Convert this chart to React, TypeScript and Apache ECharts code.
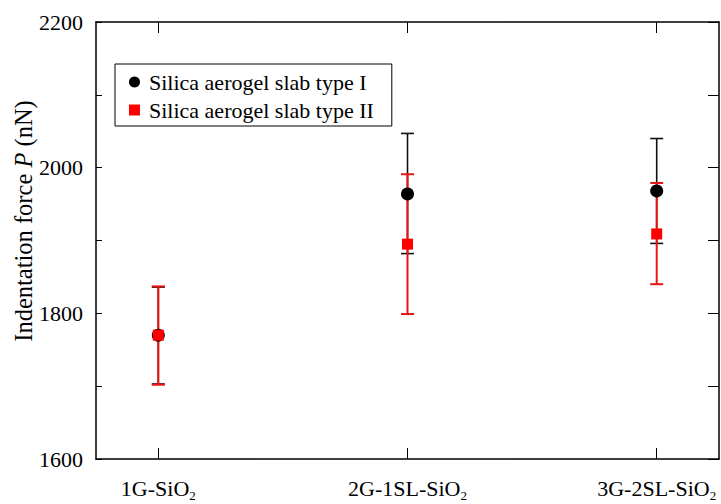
import React, { useEffect, useRef } from "react";
import * as echarts from "echarts";

const categories = ["1G-SiO", "2G-1SL-SiO", "3G-2SL-SiO"];
const subscripts = ["2", "2", "2"];
const positions = [0, 1, 2];
const seriesNames = ["Silica aerogel slab type I", "Silica aerogel slab type II"];
const typeIMean = [1770, 1964, 1968];
const typeILow = [1703, 1882, 1896];
const typeIHigh = [1836, 2047, 2040];
const typeIIMean = [1770, 1895, 1909];
const typeIILow = [1702, 1799, 1840];
const typeIIHigh = [1837, 1991, 1979];
const yLabels = [1600, 1800, 2000, 2200];

const FONT = "'Liberation Serif', 'Times New Roman', serif";

function errorSeries(name: string, low: number[], high: number[], color: string, lw: number) {
  return {
    type: "custom",
    name: name + " err",
    xAxisIndex: 0,
    yAxisIndex: 0,
    silent: true,
    data: positions.map((p, i) => [p, low[i], high[i]]),
    encode: { x: 0, y: [1, 2] },
    renderItem: (params: any, api: any) => {
      const x = api.value(0);
      const lo = api.coord([x, api.value(1)]);
      const hi = api.coord([x, api.value(2)]);
      const w = 6.5;
      const style = { stroke: color, lineWidth: lw };
      return {
        type: "group",
        children: [
          { type: "line", shape: { x1: lo[0], y1: lo[1], x2: hi[0], y2: hi[1] }, style },
          { type: "line", shape: { x1: lo[0] - w, y1: lo[1], x2: lo[0] + w, y2: lo[1] }, style },
          { type: "line", shape: { x1: hi[0] - w, y1: hi[1], x2: hi[0] + w, y2: hi[1] }, style },
        ],
      };
    },
  };
}

export default function App() {
  const ref = useRef<HTMLDivElement>(null);
  useEffect(() => {
    if (!ref.current) return;
    const chart = echarts.init(ref.current, undefined, { renderer: "svg" });
    const axisLine = { show: true, onZero: false, lineStyle: { color: "#000", width: 1.5 } };
    const option: any = {
      animation: false,
      backgroundColor: "#fff",
      grid: { left: 96, right: 2, top: 22, bottom: 45, containLabel: false, outerBoundsMode: "none" },
      xAxis: [
        {
          type: "value",
          min: -0.25,
          max: 2.25,
          position: "bottom",
          axisLine,
          splitLine: { show: false },
          axisTick: { show: true, inside: true, length: 11, customValues: positions, lineStyle: { color: "#000", width: 1 } },
          axisLabel: {
            show: true,
            customValues: positions,
            margin: 16,
            formatter: (v: number) => {
              const i = Math.round(v);
              return "{a|" + categories[i] + "}{s|" + subscripts[i] + "}";
            },
            rich: {
              a: { fontFamily: FONT, fontSize: 22, color: "#000" },
              s: { fontFamily: FONT, fontSize: 13, color: "#000", padding: [14, 0, 0, 0] },
            },
          },
        },
        {
          type: "value",
          min: -0.25,
          max: 2.25,
          position: "top",
          axisLine,
          splitLine: { show: false },
          axisTick: { show: true, inside: true, length: 11, customValues: positions, lineStyle: { color: "#000", width: 1 } },
          axisLabel: { show: false },
        },
      ],
      yAxis: [
        {
          type: "value",
          min: 1600,
          max: 2200,
          interval: 100,
          position: "left",
          axisLine,
          splitLine: { show: false },
          axisTick: { show: true, inside: true, length: 6, lineStyle: { color: "#000", width: 1 } },
          axisLabel: {
            margin: 13,
            fontFamily: FONT,
            fontSize: 22,
            color: "#000",
            formatter: (v: number) => (yLabels.indexOf(v) >= 0 ? String(v) : ""),
          },
        },
        {
          type: "value",
          min: 1600,
          max: 2200,
          interval: 100,
          position: "right",
          axisLine,
          splitLine: { show: false },
          axisTick: { show: true, inside: true, length: 11, lineStyle: { color: "#000", width: 1 } },
          axisLabel: { show: false },
        },
      ],
      legend: {
        left: 115,
        top: 64,
        orient: "vertical",
        itemWidth: 11,
        itemHeight: 11,
        itemGap: 6,
        padding: [7, 18, 5, 14],
        borderColor: "#000",
        borderWidth: 1,
        backgroundColor: "#fff",
        selectedMode: false,
        textStyle: { fontFamily: FONT, fontSize: 22, color: "#000", padding: [0, 0, 0, 4] },
        data: [
          { name: seriesNames[0], icon: "circle" },
          { name: seriesNames[1], icon: "rect" },
        ],
      },
      graphic: [
        {
          type: "text",
          x: 23,
          y: 221,
          rotation: Math.PI / 2,
          style: {
            text: "{a|Indentation force }{b|P}{a| (nN)}",
            align: "center",
            verticalAlign: "middle",
            rich: {
              a: { fontFamily: FONT, fontSize: 24.5, fill: "#000" },
              b: { fontFamily: FONT, fontSize: 24.5, fontStyle: "italic", fill: "#000" },
            },
          },
        },
      ],
      series: [
        errorSeries(seriesNames[0], typeILow, typeIHigh, "#111111", 1.6),
        errorSeries(seriesNames[1], typeIILow, typeIIHigh, "#e81414", 2),
        {
          type: "scatter",
          name: seriesNames[0],
          symbol: "circle",
          symbolSize: 13,
          itemStyle: { color: "#000", opacity: 1 },
          data: positions.map((p, i) => [p, typeIMean[i]]),
        },
        {
          type: "scatter",
          name: seriesNames[1],
          symbol: "rect",
          symbolSize: 11,
          itemStyle: { color: "#ff0000", opacity: 1 },
          data: positions.map((p, i) => [p, typeIIMean[i]]),
        },
      ],
    };
    chart.setOption(option);
    return () => chart.dispose();
  }, []);
  return <div ref={ref} style={{ position: "absolute", left: 0, top: 0, width: 721, height: 504 }} />;
}
